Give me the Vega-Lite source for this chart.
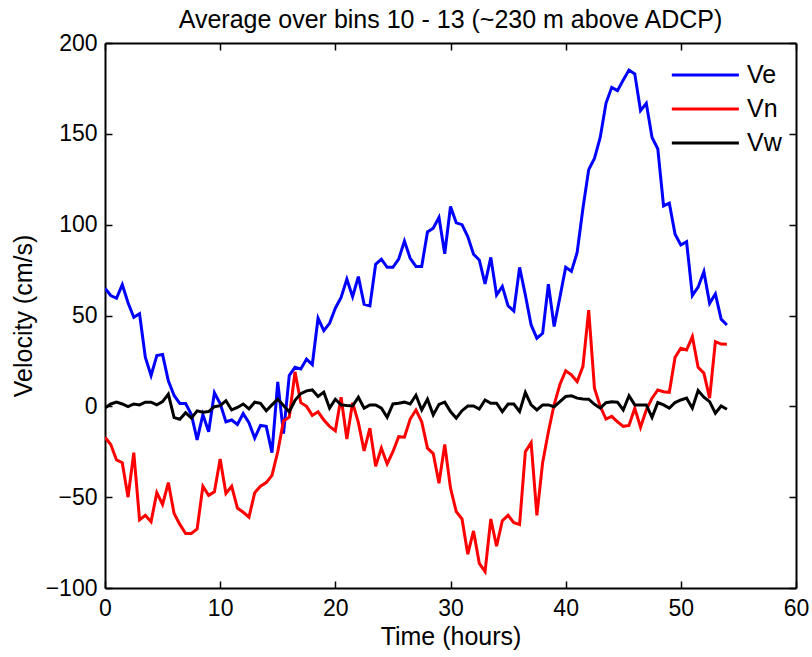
{
  "$schema": "https://vega.github.io/schema/vega-lite/v6.json",
  "width": 691,
  "height": 545,
  "autosize": {"type": "none"},
  "padding": {"left": 105, "top": 43, "right": 16, "bottom": 69},
  "background": "white",
  "title": {"text": "Average over bins 10 - 13 (~230 m above ADCP)", "font": "Liberation Sans", "fontSize": 25, "fontWeight": "normal", "color": "black", "anchor": "middle", "offset": 0, "dy": 1},
  "config": {
    "view": {"stroke": null},
    "axis": {"grid": false, "labelFlush": false, "domainColor": "black", "domainWidth": 2, "tickColor": "black", "tickWidth": 1.5, "tickSize": -7, "labelFont": "Liberation Sans", "labelFontSize": 23, "labelColor": "black", "titleFont": "Liberation Sans", "titleFontSize": 25, "titleFontWeight": "normal", "titleColor": "black"}
  },
  "data": {"values": [
    {"t":0,"Ve":65,"Vn":-17,"Vw":-1},
    {"t":0.5,"Ve":61,"Vn":-21,"Vw":1.3},
    {"t":1,"Ve":59.5,"Vn":-29.5,"Vw":2.3},
    {"t":1.5,"Ve":67,"Vn":-31,"Vw":1.3},
    {"t":2,"Ve":57,"Vn":-50,"Vw":-0.2},
    {"t":2.5,"Ve":49,"Vn":-25.5,"Vw":1.3},
    {"t":3,"Ve":51,"Vn":-62.5,"Vw":0.8},
    {"t":3.5,"Ve":27,"Vn":-60,"Vw":2.3},
    {"t":4,"Ve":17,"Vn":-63.5,"Vw":2.3},
    {"t":4.5,"Ve":28,"Vn":-47.5,"Vw":0.8},
    {"t":5,"Ve":28.5,"Vn":-54,"Vw":2.6},
    {"t":5.5,"Ve":14,"Vn":-42,"Vw":6.7},
    {"t":6,"Ve":6,"Vn":-59,"Vw":-6.2},
    {"t":6.5,"Ve":1.5,"Vn":-65,"Vw":-7.1},
    {"t":7,"Ve":1.5,"Vn":-70,"Vw":-3.5},
    {"t":7.5,"Ve":-4.5,"Vn":-70,"Vw":-6.5},
    {"t":8,"Ve":-18.5,"Vn":-67.5,"Vw":-2.5},
    {"t":8.5,"Ve":-4.5,"Vn":-44,"Vw":-3.2},
    {"t":9,"Ve":-14,"Vn":-49,"Vw":-2.9},
    {"t":9.5,"Ve":7.5,"Vn":-47,"Vw":-0.2},
    {"t":10,"Ve":1.5,"Vn":-29,"Vw":0.4},
    {"t":10.5,"Ve":-8.5,"Vn":-48,"Vw":3.1},
    {"t":11,"Ve":-7.5,"Vn":-44,"Vw":-2},
    {"t":11.5,"Ve":-10,"Vn":-56,"Vw":-0.6},
    {"t":12,"Ve":-4,"Vn":-58.3,"Vw":1.3},
    {"t":12.5,"Ve":-9,"Vn":-61,"Vw":-1.4},
    {"t":13,"Ve":-17.5,"Vn":-47.5,"Vw":2.3},
    {"t":13.5,"Ve":-10.5,"Vn":-44,"Vw":1.7},
    {"t":14,"Ve":-11,"Vn":-42,"Vw":-2.4},
    {"t":14.5,"Ve":-25.5,"Vn":-38,"Vw":0.8},
    {"t":15,"Ve":13.5,"Vn":-25,"Vw":3.9},
    {"t":15.5,"Ve":-15,"Vn":-8,"Vw":0.4},
    {"t":16,"Ve":17,"Vn":-6,"Vw":-3},
    {"t":16.5,"Ve":21.5,"Vn":19,"Vw":3.3},
    {"t":17,"Ve":20.6,"Vn":2,"Vw":7},
    {"t":17.5,"Ve":26,"Vn":0,"Vw":8.5},
    {"t":18,"Ve":23,"Vn":-5,"Vw":9},
    {"t":18.5,"Ve":48.5,"Vn":-3,"Vw":5.4},
    {"t":19,"Ve":41.7,"Vn":-7.5,"Vw":7.8},
    {"t":19.5,"Ve":45.7,"Vn":-11,"Vw":-1},
    {"t":20,"Ve":54,"Vn":-13.5,"Vw":3.9},
    {"t":20.5,"Ve":60,"Vn":5,"Vw":0.8},
    {"t":21,"Ve":70,"Vn":-18,"Vw":0.4},
    {"t":21.5,"Ve":60.4,"Vn":2,"Vw":0.2},
    {"t":22,"Ve":71.4,"Vn":-9,"Vw":5},
    {"t":22.5,"Ve":56.2,"Vn":-24.5,"Vw":-1},
    {"t":23,"Ve":55.3,"Vn":-12,"Vw":0.8},
    {"t":23.5,"Ve":78.2,"Vn":-33,"Vw":0.8},
    {"t":24,"Ve":81,"Vn":-23,"Vw":-1},
    {"t":24.5,"Ve":76.5,"Vn":-31.7,"Vw":-6},
    {"t":25,"Ve":76.5,"Vn":-25,"Vw":1.3},
    {"t":25.5,"Ve":81,"Vn":-16.7,"Vw":1.7},
    {"t":26,"Ve":91,"Vn":-17,"Vw":2.3},
    {"t":26.5,"Ve":81.5,"Vn":-7,"Vw":1.3},
    {"t":27,"Ve":77,"Vn":-2,"Vw":6.1},
    {"t":27.5,"Ve":77,"Vn":-8.5,"Vw":-2},
    {"t":28,"Ve":96,"Vn":-23,"Vw":3.9},
    {"t":28.5,"Ve":98,"Vn":-26,"Vw":-4.7},
    {"t":29,"Ve":104,"Vn":-42.3,"Vw":1.1},
    {"t":29.5,"Ve":84,"Vn":-21,"Vw":2.3},
    {"t":30,"Ve":110,"Vn":-45,"Vw":-2.9},
    {"t":30.5,"Ve":101,"Vn":-58,"Vw":-6.5},
    {"t":31,"Ve":100,"Vn":-62,"Vw":-2.4},
    {"t":31.5,"Ve":93.4,"Vn":-81.4,"Vw":0.2},
    {"t":32,"Ve":83.7,"Vn":-68.6,"Vw":0.2},
    {"t":32.5,"Ve":80.6,"Vn":-86.4,"Vw":-1.5},
    {"t":33,"Ve":67.4,"Vn":-91,"Vw":3.5},
    {"t":33.5,"Ve":82,"Vn":-62,"Vw":1.7},
    {"t":34,"Ve":61.3,"Vn":-77,"Vw":1.7},
    {"t":34.5,"Ve":66,"Vn":-63,"Vw":-2.9},
    {"t":35,"Ve":55.3,"Vn":-60,"Vw":1.3},
    {"t":35.5,"Ve":52.5,"Vn":-64,"Vw":1.3},
    {"t":36,"Ve":76.5,"Vn":-65,"Vw":-2.9},
    {"t":36.5,"Ve":61.3,"Vn":-25,"Vw":7.6},
    {"t":37,"Ve":44.8,"Vn":-20,"Vw":0.8},
    {"t":37.5,"Ve":37.5,"Vn":-60,"Vw":-2},
    {"t":38,"Ve":40.2,"Vn":-31,"Vw":0.8},
    {"t":38.5,"Ve":67.2,"Vn":-14,"Vw":0.8},
    {"t":39,"Ve":43.9,"Vn":1,"Vw":-0.2},
    {"t":39.5,"Ve":60,"Vn":12,"Vw":2.6},
    {"t":40,"Ve":76.5,"Vn":19.6,"Vw":5.4},
    {"t":40.5,"Ve":74.3,"Vn":17.3,"Vw":5.8},
    {"t":41,"Ve":84.8,"Vn":13.6,"Vw":4.5},
    {"t":41.5,"Ve":109,"Vn":22,"Vw":4.1},
    {"t":42,"Ve":130.3,"Vn":53,"Vw":3.9},
    {"t":42.5,"Ve":136.5,"Vn":10,"Vw":1.1},
    {"t":43,"Ve":148,"Vn":0,"Vw":-1},
    {"t":43.5,"Ve":166.8,"Vn":-7,"Vw":2},
    {"t":44,"Ve":175.6,"Vn":-5.5,"Vw":2.5},
    {"t":44.5,"Ve":173.8,"Vn":-8.5,"Vw":2.3},
    {"t":45,"Ve":179.6,"Vn":-11,"Vw":-2},
    {"t":45.5,"Ve":185.1,"Vn":-10.5,"Vw":5.8},
    {"t":46,"Ve":183,"Vn":-1,"Vw":0.8},
    {"t":46.5,"Ve":162.8,"Vn":-11.5,"Vw":0.8},
    {"t":47,"Ve":166.8,"Vn":-2,"Vw":0.8},
    {"t":47.5,"Ve":148,"Vn":4.5,"Vw":-6.1},
    {"t":48,"Ve":141.7,"Vn":9,"Vw":2.1},
    {"t":48.5,"Ve":110.3,"Vn":8,"Vw":0.8},
    {"t":49,"Ve":111.8,"Vn":7.7,"Vw":-1},
    {"t":49.5,"Ve":94.7,"Vn":27,"Vw":2.1},
    {"t":50,"Ve":88.8,"Vn":32,"Vw":3.5},
    {"t":50.5,"Ve":90.6,"Vn":31,"Vw":4.5},
    {"t":51,"Ve":61,"Vn":38.4,"Vw":-1},
    {"t":51.5,"Ve":65.6,"Vn":21.5,"Vw":8.7},
    {"t":52,"Ve":74.1,"Vn":18.3,"Vw":5},
    {"t":52.5,"Ve":56.7,"Vn":4.5,"Vw":2.6},
    {"t":53,"Ve":61.9,"Vn":35.6,"Vw":-3.8},
    {"t":53.5,"Ve":48,"Vn":34.3,"Vw":0.2},
    {"t":54,"Ve":44.8,"Vn":34.2,"Vw":-1.6}
  ]},
  "transform": [{"fold": ["Ve", "Vn", "Vw"], "as": ["series", "v"]}],
  "layer": [
    {
      "mark": {"type": "line", "strokeWidth": 3, "clip": true},
      "encoding": {
        "x": {"field": "t", "type": "quantitative", "scale": {"domain": [0, 60], "nice": false, "zero": false}, "axis": {"orient": "bottom", "values": [0, 10, 20, 30, 40, 50, 60], "title": "Time (hours)", "labelPadding": 16, "titlePadding": 4}},
        "y": {"field": "v", "type": "quantitative", "scale": {"domain": [-100, 200], "nice": false, "zero": false}, "axis": {"orient": "left", "values": [-100, -50, 0, 50, 100, 150, 200], "title": "Velocity (cm/s)", "labelPadding": 15, "titlePadding": 9}},
        "color": {"field": "series", "type": "nominal", "scale": {"domain": ["Ve", "Vn", "Vw"], "range": ["#0000ff", "#ff0000", "#000000"]},
          "legend": {"orient": "none", "legendX": 565, "legendY": 19, "title": null, "symbolType": "M-1,0H5", "symbolSize": 500, "symbolStrokeWidth": 3, "labelFont": "Liberation Sans", "labelFontSize": 25, "labelColor": "black", "labelOffset": 51, "rowPadding": 8, "padding": 0}}
      }
    },
    {
      "mark": {"type": "line", "strokeOpacity": 0},
      "encoding": {
        "x": {"field": "t", "type": "quantitative", "axis": {"orient": "top", "values": [0, 10, 20, 30, 40, 50, 60], "labels": false, "title": null}},
        "y": {"field": "v", "type": "quantitative", "axis": {"orient": "right", "values": [-100, -50, 0, 50, 100, 150, 200], "labels": false, "title": null}},
        "detail": {"field": "series"}
      }
    }
  ],
  "resolve": {"axis": {"x": "independent", "y": "independent"}}
}
